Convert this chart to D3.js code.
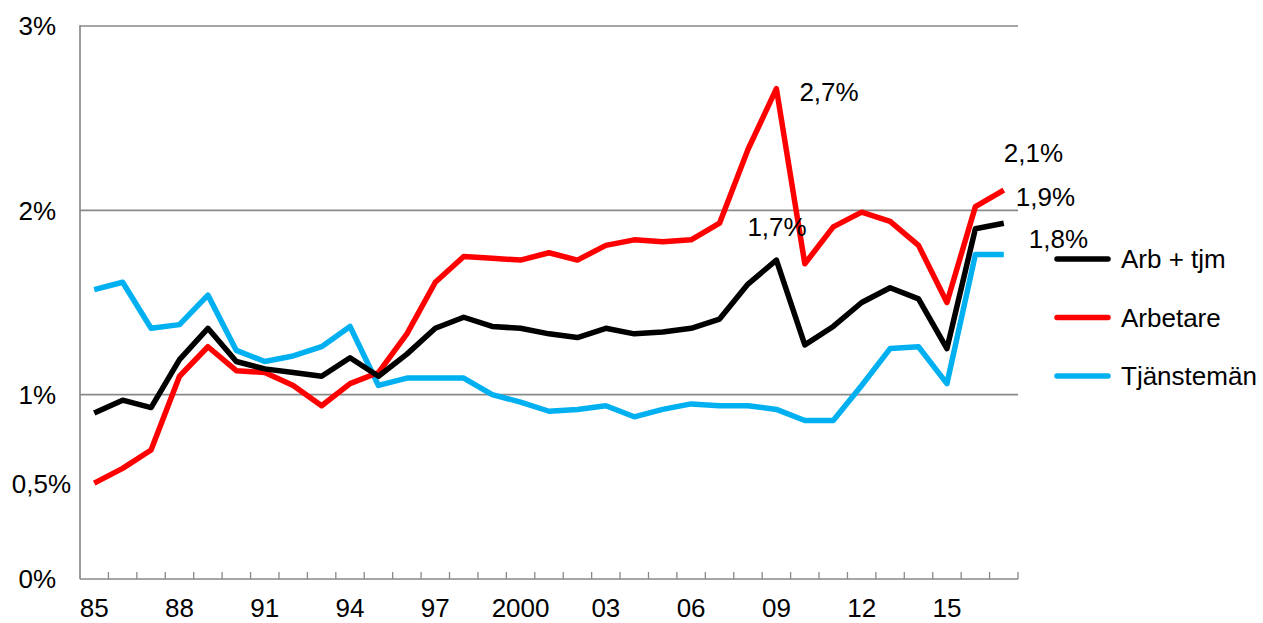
<!DOCTYPE html>
<html>
<head>
<meta charset="utf-8">
<script src="https://cdn.jsdelivr.net/npm/d3@7"></script>
<style>
  body { margin: 0; background: #fff; }
  text { font-family: "Liberation Sans", Arial, sans-serif; fill: #000; }
</style>
</head>
<body>
<svg id="chart" width="1263" height="623"></svg>
<script>
// Data (percent)
const years = d3.range(1985, 2018);
const arbTjm = [0.90, 0.97, 0.93, 1.19, 1.36, 1.18, 1.14, 1.12, 1.10, 1.20, 1.10,
  1.22, 1.36, 1.42, 1.37, 1.36, 1.33, 1.31, 1.36, 1.33, 1.34, 1.36, 1.41,
  1.60, 1.73, 1.27, 1.37, 1.50, 1.58, 1.52, 1.25, 1.90, 1.93];
const arbetare = [0.52, 0.60, 0.70, 1.10, 1.26, 1.13, 1.12, 1.05, 0.94, 1.06, 1.12,
  1.33, 1.61, 1.75, 1.74, 1.73, 1.77, 1.73, 1.81, 1.84, 1.83, 1.84, 1.93,
  2.33, 2.66, 1.71, 1.91, 1.99, 1.94, 1.81, 1.50, 2.02, 2.11];
const tjansteman = [1.57, 1.61, 1.36, 1.38, 1.54, 1.24, 1.18, 1.21, 1.26, 1.37, 1.05,
  1.09, 1.09, 1.09, 1.00, 0.96, 0.91, 0.92, 0.94, 0.88, 0.92, 0.95, 0.94,
  0.94, 0.92, 0.86, 0.86, 1.05, 1.25, 1.26, 1.06, 1.76, 1.76];
const seriesNames = ["Arb + tjm", "Arbetare", "Tjänstemän"];
const seriesColors = ["#000000", "#ff0000", "#00b0f0"];
const yTicks = [0, 1, 2, 3];
const yTickLabels = ["0%", "1%", "2%", "3%"];
const halfTick = 0.5, halfTickLabel = "0,5%";
const gridValues = [1, 2, 3];
const xLabelYears = [1985, 1988, 1991, 1994, 1997, 2000, 2003, 2006, 2009, 2012, 2015];
const xLabelTexts = ["85", "88", "91", "94", "97", "2000", "03", "06", "09", "12", "15"];
// value annotations: [series index, year, text, dx, dy]
const annotations = [
  [1, 2009, "2,7%", 23, 3],
  [0, 2009, "1,7%", -29, -33],
  [1, 2017, "2,1%", 0, -37],
  [0, 2017, "1,9%", 12, -27],
  [2, 2017, "1,8%", 25, -16]
];

const svg = d3.select("#chart");
const plotLeft = 80, plotRight = 1018, plotTop = 26, plotBottom = 579;
const axisColor = "#898989";
const fs = 26;

const x = d3.scaleBand().domain(years).range([plotLeft, plotRight]).padding(0);
const y = d3.scaleLinear().domain([0, 3]).range([plotBottom, plotTop]);
const cx = d => x(d) + x.bandwidth() / 2;

// Gridlines
svg.selectAll(".grid").data(gridValues).enter().append("line")
  .attr("x1", plotLeft).attr("x2", plotRight)
  .attr("y1", d => y(d)).attr("y2", d => y(d))
  .attr("stroke", axisColor).attr("stroke-width", 1.7);

// Axes lines
svg.append("line").attr("x1", plotLeft).attr("x2", plotLeft).attr("y1", plotTop - 0.8).attr("y2", plotBottom)
  .attr("stroke", axisColor).attr("stroke-width", 1.7);
svg.append("line").attr("x1", plotLeft).attr("x2", plotRight).attr("y1", plotBottom).attr("y2", plotBottom)
  .attr("stroke", axisColor).attr("stroke-width", 1.7);

// Tick marks between categories (pointing up)
const tickPos = years.slice(1).map(d => x(d)).concat([plotRight]);
svg.selectAll(".xtick").data(tickPos).enter().append("line")
  .attr("x1", d => d).attr("x2", d => d)
  .attr("y1", plotBottom).attr("y2", plotBottom - 7)
  .attr("stroke", axisColor).attr("stroke-width", 1.3);

// Y labels
svg.selectAll(".ylab").data(yTicks).enter().append("text")
  .attr("x", 56).attr("y", d => y(d))
  .attr("dy", "0.36em")
  .attr("text-anchor", "end")
  .attr("font-size", fs)
  .text((d, i) => yTickLabels[i]);
svg.append("text")
  .attr("x", 71).attr("y", y(halfTick) - 3)
  .attr("dy", "0.36em")
  .attr("text-anchor", "end")
  .attr("font-size", fs)
  .text(halfTickLabel);

// X labels
svg.selectAll(".xlab").data(xLabelYears).enter().append("text")
  .attr("x", d => cx(d)).attr("y", 608)
  .attr("dy", "0.36em")
  .attr("text-anchor", "middle")
  .attr("font-size", fs)
  .text((d, i) => xLabelTexts[i]);

// Lines
const allSeries = [arbTjm, arbetare, tjansteman];
const line = d3.line().x((d, i) => cx(years[i])).y(d => y(d));
// draw order: blue, red, black on top
[2, 1, 0].forEach(si => {
  svg.append("path")
    .datum(allSeries[si])
    .attr("d", line)
    .attr("fill", "none")
    .attr("stroke", seriesColors[si])
    .attr("stroke-width", 5.5)
    .attr("stroke-linejoin", "round");
});

// Annotations
annotations.forEach(a => {
  const [si, yr, txt, dx, dy] = a;
  const v = allSeries[si][years.indexOf(yr)];
  svg.append("text")
    .attr("x", cx(yr) + dx).attr("y", y(v) + dy)
    .attr("dy", "0.36em")
    .attr("font-size", fs)
    .text(txt);
});

// Legend
const legend = svg.append("g");
seriesNames.forEach((name, i) => {
  const ly = 259 + i * 58.5;
  legend.append("line")
    .attr("x1", 1057).attr("x2", 1108).attr("y1", ly).attr("y2", ly)
    .attr("stroke", seriesColors[i]).attr("stroke-width", 5.5)
    .attr("stroke-linecap", "round");
  legend.append("text")
    .attr("x", 1121).attr("y", ly)
    .attr("dy", "0.36em")
    .attr("font-size", fs)
    .text(name);
});
</script>
</body>
</html>
